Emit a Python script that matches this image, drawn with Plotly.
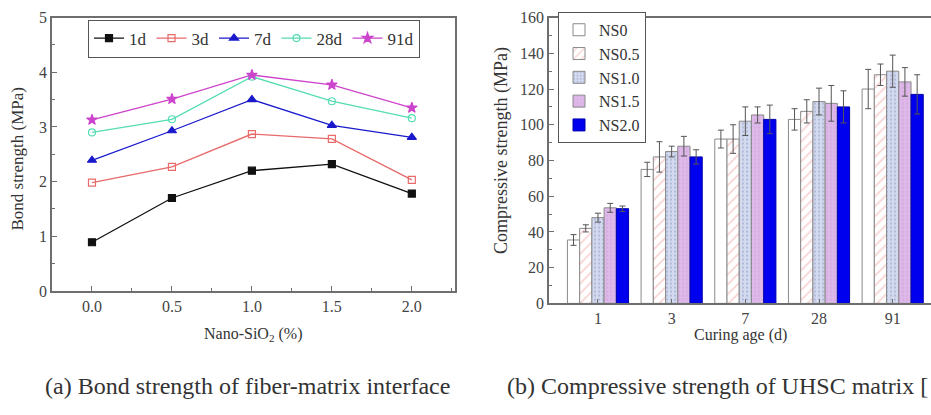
import plotly.graph_objects as go

# ---- Data: left panel (bond strength) ----
nano_sio2 = [0.0, 0.5, 1.0, 1.5, 2.0]
bond_1d = [0.89, 1.70, 2.20, 2.32, 1.78]
bond_3d = [1.98, 2.27, 2.87, 2.78, 2.03]
bond_7d = [2.39, 2.93, 3.50, 3.03, 2.81]
bond_28d = [2.90, 3.14, 3.92, 3.47, 3.16]
bond_91d = [3.13, 3.51, 3.95, 3.77, 3.35]
bond_names = ["1d", "3d", "7d", "28d", "91d"]

# ---- Data: right panel (compressive strength) ----
curing_age = ["1", "3", "7", "28", "91"]
ns_names = ["NS0", "NS0.5", "NS1.0", "NS1.5", "NS2.0"]
ns0 = [35.5, 75.0, 92.0, 103.0, 120.0]
ns05 = [42.0, 82.0, 92.0, 107.5, 128.0]
ns10 = [48.0, 85.0, 102.0, 113.0, 130.0]
ns15 = [53.5, 88.0, 105.5, 112.0, 124.0]
ns20 = [53.0, 82.0, 103.0, 110.0, 117.0]
ns0_err = [3.0, 4.0, 5.0, 6.0, 11.0]
ns05_err = [2.0, 8.5, 8.0, 6.5, 6.0]
ns10_err = [2.5, 3.0, 8.0, 7.5, 9.0]
ns15_err = [2.5, 5.5, 4.5, 10.0, 8.0]
ns20_err = [1.5, 4.0, 8.0, 9.0, 11.0]

W, H = 931, 415
def px(x):
    return x / W
def py(y):
    return 1 - y / H

fig = go.Figure()

serif = "Liberation Serif"
txt = "#333333"

line_styles = [
    dict(color="#111111", symbol="square", size=7),
    dict(color="#e86a6a", symbol="square-open", size=7),
    dict(color="#1a1acc", symbol="triangle-up", size=8),
    dict(color="#55dcb4", symbol="circle-open", size=7),
    dict(color="#cc44cc", symbol="star", size=8),
]
bond_series = [bond_1d, bond_3d, bond_7d, bond_28d, bond_91d]
for name, ys, st in zip(bond_names, bond_series, line_styles):
    fig.add_trace(go.Scatter(
        x=nano_sio2, y=ys, name=name, mode="lines+markers",
        line=dict(color=st["color"], width=1.3),
        marker=dict(symbol=st["symbol"], size=st["size"],
                    color=st["color"], line=dict(color=st["color"], width=1.2)),
        xaxis="x", yaxis="y", legend="legend",
    ))

bar_series = [ns0, ns05, ns10, ns15, ns20]
bar_errs = [ns0_err, ns05_err, ns10_err, ns15_err, ns20_err]
bar_markers = [
    dict(color="white", line=dict(color="#8a8a8a", width=1)),
    dict(color="white", line=dict(color="#8a8a8a", width=1),
         pattern=dict(shape="/", fgcolor="#f2a8a8", bgcolor="white", size=7, solidity=0.25)),
    dict(color="#c9d1ea", line=dict(color="#8a8a8a", width=1),
         pattern=dict(shape=".", fgcolor="#8f98bb", bgcolor="#d3daf0", size=4, solidity=0.25)),
    dict(color="#dcb3e8", line=dict(color="#8a8a8a", width=1),
         pattern=dict(shape=".", fgcolor="#c49ad2", bgcolor="#dfb8ea", size=4, solidity=0.2)),
    dict(color="#0000ee", line=dict(color="#0000aa", width=1)),
]
for name, ys, es, mk in zip(ns_names, bar_series, bar_errs, bar_markers):
    fig.add_trace(go.Bar(
        x=curing_age, y=ys, name=name, marker=mk,
        error_y=dict(type="data", array=es, color="#555555", thickness=1, width=3),
        xaxis="x2", yaxis="y2", legend="legend2",
    ))

axis_common = dict(
    showline=True, linecolor="#6e6e6e", linewidth=1.5,
    ticks="inside", ticklen=5, tickcolor="#6e6e6e", tickwidth=1.2,
    showgrid=False, zeroline=False,
    tickfont=dict(family=serif, size=16, color="#444444"),
)

fig.update_layout(
    width=W, height=H,
    margin=dict(l=0, r=0, t=0, b=0),
    paper_bgcolor="white", plot_bgcolor="white",
    barmode="group", bargap=0.17, bargroupgap=0.0,
    xaxis=dict(domain=[px(52), px(455)], range=[-0.25, 2.27], tickvals=nano_sio2,
               ticktext=["0.0", "0.5", "1.0", "1.5", "2.0"], mirror=True,
               minor=dict(dtick=0.25, ticks="inside", ticklen=3, tickcolor="#6e6e6e"),
               anchor="y", **axis_common),
    yaxis=dict(domain=[py(295), py(10)], range=[0, 5], dtick=1, mirror=True,
               minor=dict(dtick=0.5, ticks="inside", ticklen=3, tickcolor="#6e6e6e"),
               anchor="x", **axis_common),
    xaxis2=dict(domain=[px(549), 1.0], range=[-0.665, 4.52], type="category", mirror=True,
                anchor="y2", **axis_common),
    yaxis2=dict(domain=[py(308), py(10)], range=[0, 160], dtick=20,
                minor=dict(dtick=10, ticks="inside", ticklen=3, tickcolor="#6e6e6e"),
                anchor="x2", **axis_common),
    legend=dict(orientation="h", x=px(88), y=py(12), xanchor="left", yanchor="top",
                bordercolor="#555555", borderwidth=1, bgcolor="white",
                font=dict(family=serif, size=17, color=txt), itemwidth=30,
                tracegroupgap=0),
    legend2=dict(x=px(558), y=py(4), xanchor="left", yanchor="top",
                 bordercolor="#555555", borderwidth=1, bgcolor="white",
                 font=dict(family=serif, size=16, color=txt), tracegroupgap=0),
    showlegend=True,
)

ann = [
    dict(text="Nano-SiO<sub>2</sub> (%)", x=px(253), y=py(340), size=16),
    dict(text="Bond strength (MPa)", x=px(18), y=py(157), size=17, angle=-90),
    dict(text="Curing age (d)", x=px(740), y=py(341), size=16),
    dict(text="Compressive strength (MPa)", x=px(502), y=py(149), size=18, angle=-90),
    dict(text="(a) Bond strength of fiber-matrix interface", x=px(247), y=py(394), size=24),
]
for a in ann:
    fig.add_annotation(text=a["text"], x=a["x"], y=a["y"], xref="paper", yref="paper",
                       xanchor="center", yanchor="middle", showarrow=False,
                       textangle=a.get("angle", 0),
                       font=dict(family=serif, size=a["size"], color=txt))
fig.add_annotation(text="(b) Compressive strength of UHSC matrix [", x=px(505), y=py(394),
                   xref="paper", yref="paper", xanchor="left", yanchor="middle",
                   showarrow=False, font=dict(family=serif, size=24, color=txt))

fig.write_html("out.html")
